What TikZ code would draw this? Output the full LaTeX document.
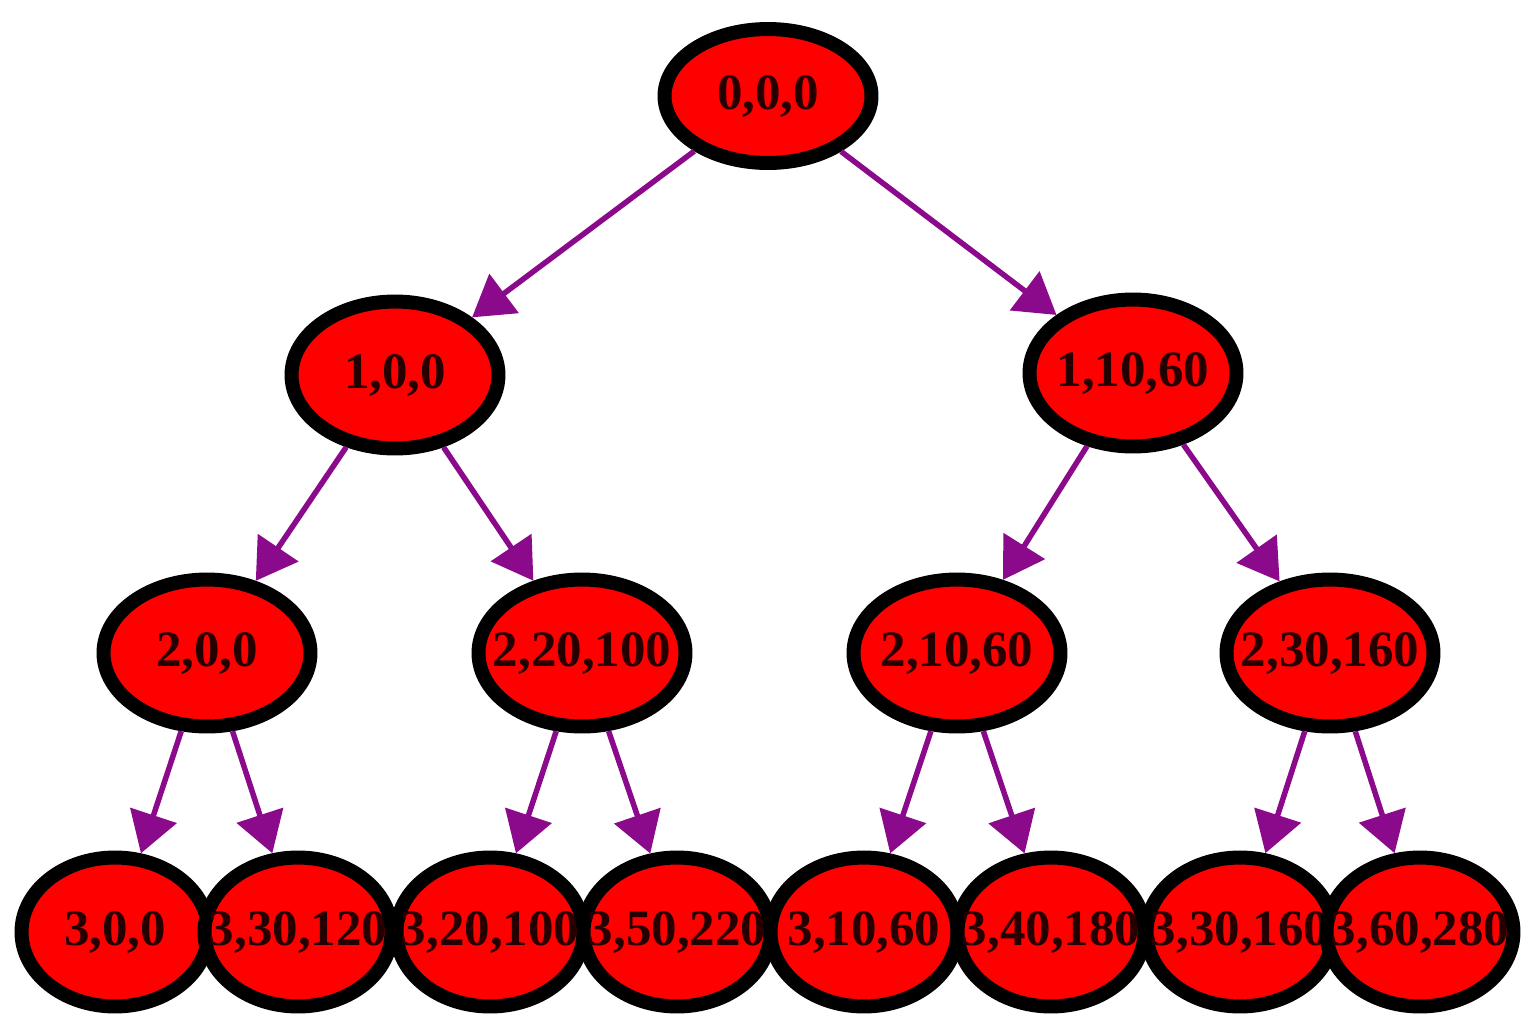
\documentclass[tikz,border=0pt]{standalone}
\usepackage{fontspec}
\setmainfont{Liberation Serif}
\usetikzlibrary{shapes.geometric,arrows.meta}
\definecolor{edgepurple}{RGB}{139,10,139}
\definecolor{nodered}{RGB}{255,0,0}
\tikzset{
  tnode/.style={ellipse, draw=black, fill=nodered, line width=0.28cm, inner sep=0pt,
    minimum width=4.14cm, minimum height=2.94cm,
    font=\fontsize{29}{31}\selectfont\bfseries, text=black!85!red},
  rootnode/.style={tnode, minimum height=2.68cm},
  leafnode/.style={tnode, minimum width=3.74cm, minimum height=2.98cm},
  tedge/.style={draw=edgepurple, line width=0.11cm,
    -{Triangle[length=0.8cm,width=0.96cm]}}
}
\newcommand{\lbl}[1]{\makebox[0pt][c]{#1}}
\begin{document}
\begin{tikzpicture}[x=0.02cm,y=-0.02cm]
\useasboundingbox (0,0) rectangle (1526,1018);
% nodes
\node[rootnode] (n0) at (768,96) {\lbl{0,0,0}};
\node[tnode] (n1a) at (395,375) {\lbl{1,0,0}};
\node[tnode] (n1b) at (1133,373) {\lbl{1,10,60}};
\node[tnode] (n2a) at (207,653) {\lbl{2,0,0}};
\node[tnode] (n2b) at (582,653) {\lbl{2,20,100}};
\node[tnode] (n2c) at (957,653) {\lbl{2,10,60}};
\node[tnode] (n2d) at (1330,653) {\lbl{2,30,160}};
\node[leafnode] (n3a) at (115,932) {\lbl{3,0,0}};
\node[leafnode] (n3b) at (298,932) {\lbl{3,30,120}};
\node[leafnode] (n3c) at (490,932) {\lbl{3,20,100}};
\node[leafnode] (n3d) at (677,932) {\lbl{3,50,220}};
\node[leafnode] (n3e) at (864,932) {\lbl{3,10,60}};
\node[leafnode] (n3f) at (1051,932) {\lbl{3,40,180}};
\node[leafnode] (n3g) at (1240,932) {\lbl{3,30,160}};
\node[leafnode] (n3h) at (1420,932) {\lbl{3,60,280}};
% edges
\draw[tedge] (n0) -- (n1a);
\draw[tedge] (n0) -- (n1b);
\draw[tedge] (n1a) -- (n2a);
\draw[tedge] (n1a) -- (n2b);
\draw[tedge] (n1b) -- (n2c);
\draw[tedge] (n1b) -- (n2d);
\draw[tedge] (n2a) -- (n3a);
\draw[tedge] (n2a) -- (n3b);
\draw[tedge] (n2b) -- (n3c);
\draw[tedge] (n2b) -- (n3d);
\draw[tedge] (n2c) -- (n3e);
\draw[tedge] (n2c) -- (n3f);
\draw[tedge] (n2d) -- (n3g);
\draw[tedge] (n2d) -- (n3h);
\end{tikzpicture}
\end{document}
